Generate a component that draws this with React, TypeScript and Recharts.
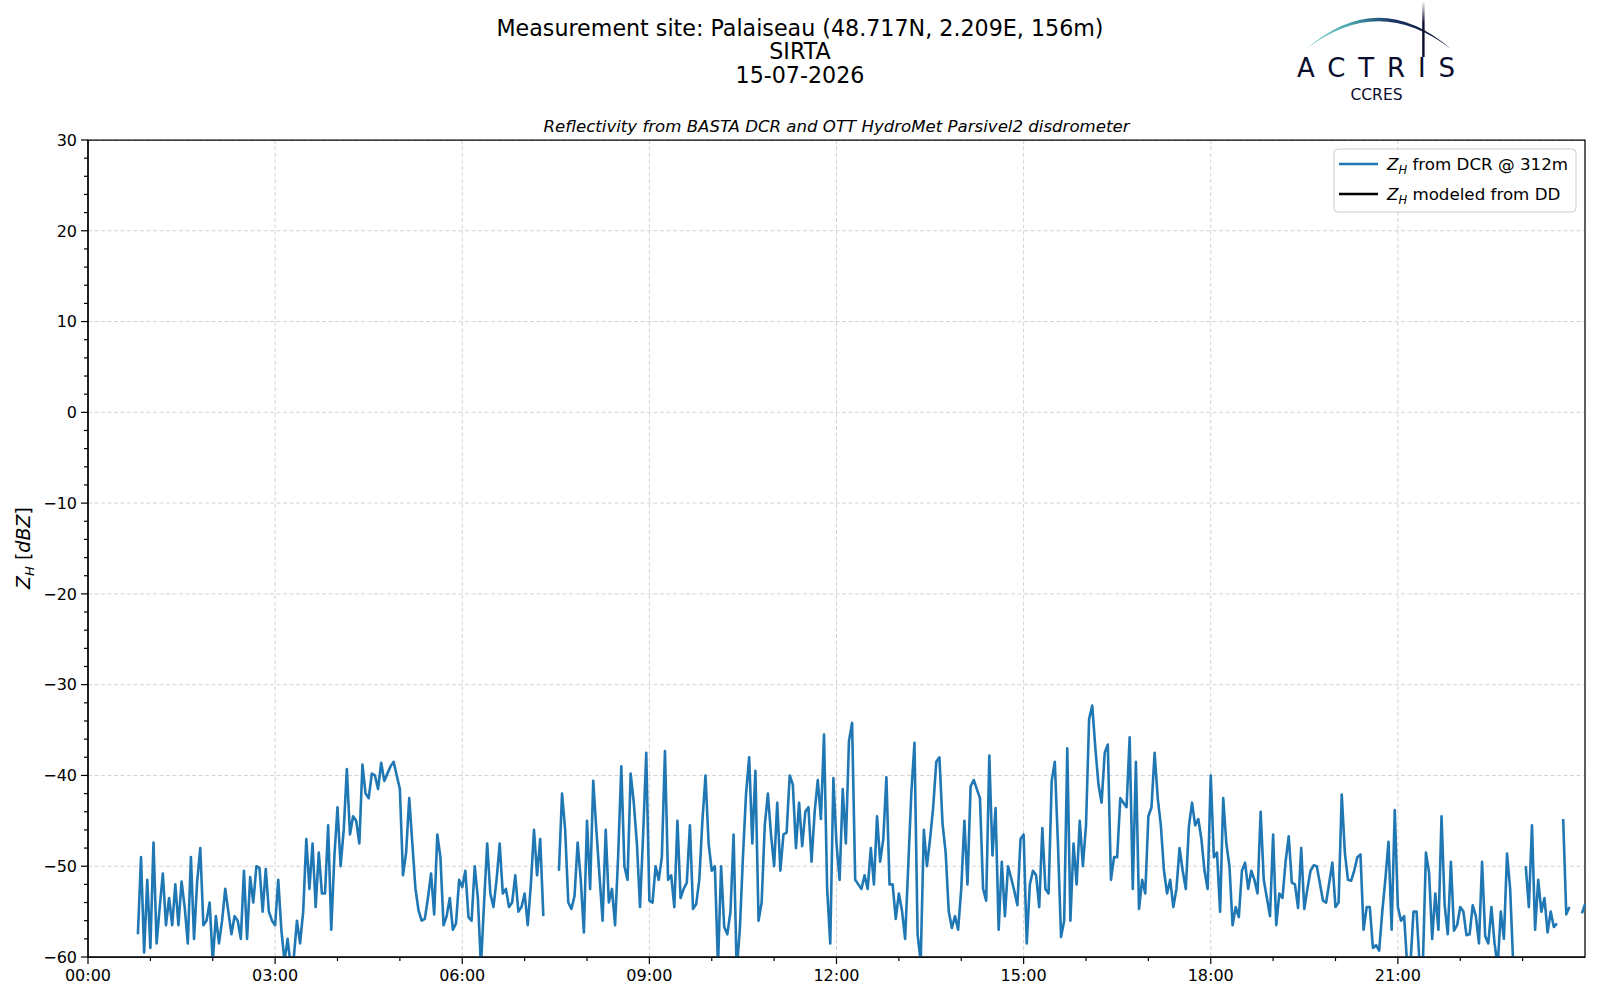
import { CartesianGrid, Line, LineChart, ReferenceArea, XAxis, YAxis } from "recharts";

// DCR reflectivity at 312 m, one value every 3 minutes from 00:48 (null = no data)
const START_MINUTE = 48;
const STEP_MINUTES = 3;

const zhDcrByHour: (number | null)[][] = [
  // 00h (from 00:48)
  [-57.5, -49, -59.5, -51.5],
  // 01h
  [-59, -47.4, -58.5, -54.5, -50.8, -56.5, -53.5, -56.5, -52, -56.5, -51.7, -54.5, -58.5, -49, -58, -51.7, -48, -56.5, -56, -54],
  // 02h
  [-60.5, -55.5, -58.5, -56, -52.5, -55, -57.5, -55.5, -56, -58, -50.5, -58, -51.2, -54, -50, -50.2, -55, -50.3, -55, -56],
  // 03h
  [-56.5, -51.5, -57, -60.5, -58, -61, -60, -56, -58.5, -55, -47, -52.5, -47.5, -54.5, -48.5, -53, -53, -45.5, -57, -48.9],
  // 04h
  [-43.5, -50, -46, -39.3, -46.5, -44.5, -45, -47.5, -38.8, -42, -42.5, -39.8, -40, -41.5, -38.6, -40.6, -39.8, -39, -38.5, -40],
  // 05h
  [-41.5, -51, -48.5, -42.5, -47.5, -52.5, -54.9, -56, -55.8, -53.5, -50.8, -55.3, -46.5, -49, -56.5, -55.5, -53.5, -57, -56.3, -51.5],
  // 06h
  [-52.3, -50.5, -55.6, -56, -50, -53.5, -61, -54, -47.5, -53, -54.5, -51.5, -47.5, -53, -52.5, -54.5, -54, -51, -55, -54.5],
  // 07h
  [-53, -56.5, -52, -46, -51, -47, -55.5, null, null, null, null, -50.5, -42, -46, -54, -54.7, -53.3, -47.4, -51.5, -57.3],
  // 08h
  [-45, -52.5, -40.6, -46, -51, -56, -46, -54, -52.5, -56.5, -48.8, -39, -50, -51.5, -39.8, -43, -47.5, -54.5, -46.5, -37.5],
  // 09h
  [-53.8, -54, -50, -51.5, -49, -37.3, -51.5, -51, -54.5, -45, -53.5, -52.5, -51.8, -45.5, -54.7, -54.2, -51.5, -45, -40, -47.5],
  // 10h
  [-50.5, -50, -61, -50, -56.7, -57.5, -55, -46.5, -61.5, -57, -49, -42, -38, -47.5, -39.5, -56, -54, -45.5, -42, -46.5],
  // 11h
  [-50, -43, -50.5, -46.5, -46.3, -40, -41, -48, -43, -47.8, -44, -43.5, -49.5, -44, -40.5, -44.8, -35.5, -52.5, -58.5, -40.3],
  // 12h
  [-47.5, -51.5, -41.5, -47.5, -36.2, -34.2, -51.5, -52, -52.5, -51, -52.5, -48, -52, -44.5, -49.5, -47, -40.2, -52, -52, -55.8],
  // 13h
  [-53, -54.9, -58, -50, -41.9, -36.4, -57.5, -60.5, -46, -50, -47, -43.5, -38.5, -38, -45.3, -48.5, -55, -56.8, -55.5, -57],
  // 14h
  [-52.5, -45, -52, -41.2, -40.5, -41.5, -42.5, -52.5, -53.8, -37.8, -48.8, -43.6, -57, -49.5, -55.5, -50, -51.3, -52.7, -54.3, -47],
  // 15h
  [-46.5, -58.5, -52, -50.5, -51, -54.5, -45.8, -52.5, -53, -40.6, -38.5, -47.5, -57.8, -56, -37, -56, -47.5, -52, -45, -50],
  // 16h
  [-45.5, -33.8, -32.3, -37, -41, -43, -37.5, -36.6, -51.5, -49, -49, -42.5, -43, -43.5, -35.8, -52.5, -38.5, -54.7, -51.5, -53],
  // 17h
  [-44.5, -43.5, -37.5, -42.5, -45.5, -50.5, -53, -51.5, -54.5, -52.5, -48, -50.5, -52.5, -45.6, -43, -45.5, -44.8, -47, -50.5, -52.5],
  // 18h
  [-40, -49, -48.5, -55, -42.5, -47.5, -50, -56.5, -54.5, -55.6, -50.5, -49.6, -52.5, -50.5, -51.5, -53, -44, -51.5, -53.5, -55.5],
  // 19h
  [-46.5, -56.5, -53, -53.5, -49.5, -46.7, -51.8, -52, -54.6, -48, -54.7, -52.5, -50.5, -49.9, -50, -51.9, -53.8, -54, -51.8, -49.6],
  // 20h
  [-54.5, -54, -42.1, -48.5, -51.5, -51.6, -50.5, -49, -48.7, -57, -54.5, -54.5, -59, -58.7, -59.3, -55, -51.4, -47.3, -57, -43.8],
  // 21h
  [-54.5, -56, -55.5, -61, -61, -55, -55, -61, -61, -48.5, -50.7, -58, -53, -57, -44.5, -54.3, -57.5, -49.5, -57.1, -56.5],
  // 22h
  [-54.5, -55, -57.6, -57.5, -54.3, -55.5, -58.5, -49.5, -57.7, -58.5, -54.5, -58.5, -61, -55, -58, -48.6, -52.5, -61, null, null],
  // 23h
  [null, -50, -54.5, -45.5, -57, -51.5, -55, -53.5, -57.3, -55, -56.7, -56.3, null, -44.8, -55.3, -54.5, null, null, null, -55.2],
  // 24:00
  [-54.2],
];

const hourTicks = [0, 60, 120, 180, 240, 300, 360, 420, 480, 540, 600, 660, 720, 780, 840, 900, 960, 1020, 1080, 1140, 1200, 1260, 1320, 1380];
const labelledHourTicks = [0, 180, 360, 540, 720, 900, 1080, 1260];
const timeLabels = ["00:00", "03:00", "06:00", "09:00", "12:00", "15:00", "18:00", "21:00"];

const zTicks = [-60, -58, -56, -54, -52, -50, -48, -46, -44, -42, -40, -38, -36, -34, -32, -30, -28, -26, -24, -22, -20, -18, -16, -14, -12, -10, -8, -6, -4, -2, 0, 2, 4, 6, 8, 10, 12, 14, 16, 18, 20, 22, 24, 26, 28, 30];
const zMajorTicks = [-60, -50, -40, -30, -20, -10, 0, 10, 20, 30];

const data = zhDcrByHour.flat().map((zh, i) => ({ minute: START_MINUTE + i * STEP_MINUTES, zh }));

const FONT = "'DejaVu Sans', sans-serif";
const NAVY = "#0b0d2e";

function TimeTick(props: any) {
  const { x, y, payload } = props;
  const idx = labelledHourTicks.indexOf(payload.value);
  const major = idx >= 0;
  return (
    <g>
      <line x1={x} x2={x} y1={y} y2={y + (major ? 7 : 4)} stroke="#000" strokeWidth={1.2} />
      {major && (
        <text x={x} y={y + 24} textAnchor="middle" fontSize={16} fontFamily={FONT} fill="#000">
          {timeLabels[idx]}
        </text>
      )}
    </g>
  );
}

function ZTick(props: any) {
  const { x, y, payload } = props;
  const v = payload.value as number;
  const major = zMajorTicks.includes(v);
  return (
    <g>
      <line x1={x - (major ? 7 : 4)} x2={x} y1={y} y2={y} stroke="#000" strokeWidth={1.2} />
      {major && (
        <text x={x - 11} y={y} dy="0.36em" textAnchor="end" fontSize={16} fontFamily={FONT} fill="#000">
          {v < 0 ? "\u2212" + Math.abs(v) : String(v)}
        </text>
      )}
    </g>
  );
}

function Overlay() {
  return (
    <svg
      width={1600}
      height={1000}
      style={{ position: "absolute", left: 0, top: 0, pointerEvents: "none" }}
      fontFamily={FONT}
    >
      <defs>
        <linearGradient id="arcGrad" x1="0" y1="0" x2="1" y2="0">
          <stop offset="0" stopColor="#86d3cb" />
          <stop offset="0.3" stopColor="#4aa8ad" />
          <stop offset="0.6" stopColor="#1b3565" />
          <stop offset="1" stopColor={NAVY} />
        </linearGradient>
        <linearGradient id="mastGrad" x1="0" y1="0" x2="0" y2="1">
          <stop offset="0" stopColor={NAVY} stopOpacity="0" />
          <stop offset="0.4" stopColor={NAVY} stopOpacity="1" />
          <stop offset="1" stopColor={NAVY} />
        </linearGradient>
      </defs>

      {/* titles */}
      <g fill="#000" fontSize={22.2} textAnchor="middle">
        <text x={800} y={35.5}>Measurement site: Palaiseau (48.717N, 2.209E, 156m)</text>
        <text x={800} y={59}>SIRTA</text>
        <text x={800} y={82.5}>15-07-2026</text>
      </g>
      <text x={836.5} y={132} fontSize={16.6} fontStyle="italic" textAnchor="middle" fill="#000">
        Reflectivity from BASTA DCR and OTT HydroMet Parsivel2 disdrometer
      </text>

      {/* logo */}
      <path d="M1305,50 Q1378,-14 1451,49 Q1378,-7 1305,50 Z" fill="url(#arcGrad)" />
      <rect x={1422.2} y={1} width={2.4} height={56} fill="url(#mastGrad)" />
      <text x={1297} y={77} fontSize={26} textLength={158} lengthAdjust="spacing" fill={NAVY}>
        ACTRIS
      </text>
      <text x={1376.5} y={99.5} fontSize={15.5} textAnchor="middle" fill={NAVY}>
        CCRES
      </text>

      {/* y label */}
      <g transform="translate(30,548) rotate(-90)">
        <text x={0} y={0} fontSize={19} textAnchor="middle" fill="#000">
          <tspan fontStyle="italic">Z</tspan>
          <tspan fontStyle="italic" fontSize={13} dy={4}>H</tspan>
          <tspan dy={-4}> [</tspan>
          <tspan fontStyle="italic">dBZ</tspan>
          <tspan>]</tspan>
        </text>
      </g>

      {/* legend */}
      <rect x={1334} y={149} width={242} height={63} rx={4} fill="#fff" fillOpacity={0.8} stroke="#cccccc" strokeWidth={1} />
      <line x1={1339} x2={1378} y1={164} y2={164} stroke="#1f77b4" strokeWidth={2.5} />
      <text x={1387} y={170} fontSize={16.7} fill="#000">
        <tspan fontStyle="italic">Z</tspan>
        <tspan fontStyle="italic" fontSize={11.5} dy={4}>H</tspan>
        <tspan dy={-4}> from DCR @ 312m</tspan>
      </text>
      <line x1={1339} x2={1378} y1={194} y2={194} stroke="#000" strokeWidth={2.5} />
      <text x={1387} y={200} fontSize={16.7} fill="#000">
        <tspan fontStyle="italic">Z</tspan>
        <tspan fontStyle="italic" fontSize={11.5} dy={4}>H</tspan>
        <tspan dy={-4}> modeled from DD</tspan>
      </text>
    </svg>
  );
}

export default function App() {
  return (
    <div style={{ position: "relative", width: 1600, height: 1000, background: "#fff" }}>
      <style>{"body{margin:0}"}</style>
      <LineChart width={1600} height={1000} data={data} margin={{ top: 140, right: 15, bottom: 13, left: 28 }}>
        <CartesianGrid
          stroke="#d3d3d3"
          strokeWidth={1}
          strokeDasharray="4 2.5"
          horizontalValues={zMajorTicks}
          verticalValues={labelledHourTicks}
        />
        <XAxis
          dataKey="minute"
          type="number"
          domain={[0, 1440]}
          ticks={hourTicks}
          interval={0}
          height={30}
          tickSize={0}
          tickMargin={0}
          tickLine={false}
          tick={<TimeTick />}
          axisLine={{ stroke: "#000", strokeWidth: 1.25 }}
        />
        <YAxis
          type="number"
          domain={[-60, 30]}
          allowDataOverflow
          ticks={zTicks}
          interval={0}
          width={60}
          tickSize={0}
          tickMargin={0}
          tickLine={false}
          tick={<ZTick />}
          axisLine={{ stroke: "#000", strokeWidth: 1.25 }}
        />
        <Line
          type="linear"
          dataKey="zh"
          stroke="#1f77b4"
          strokeWidth={2.6}
          strokeLinejoin="round"
          dot={false}
          connectNulls={false}
          isAnimationActive={false}
        />
        <ReferenceArea x1={0} x2={1440} y1={-60} y2={30} fill="none" stroke="#000" strokeWidth={1.25} />
      </LineChart>
      <Overlay />
    </div>
  );
}
